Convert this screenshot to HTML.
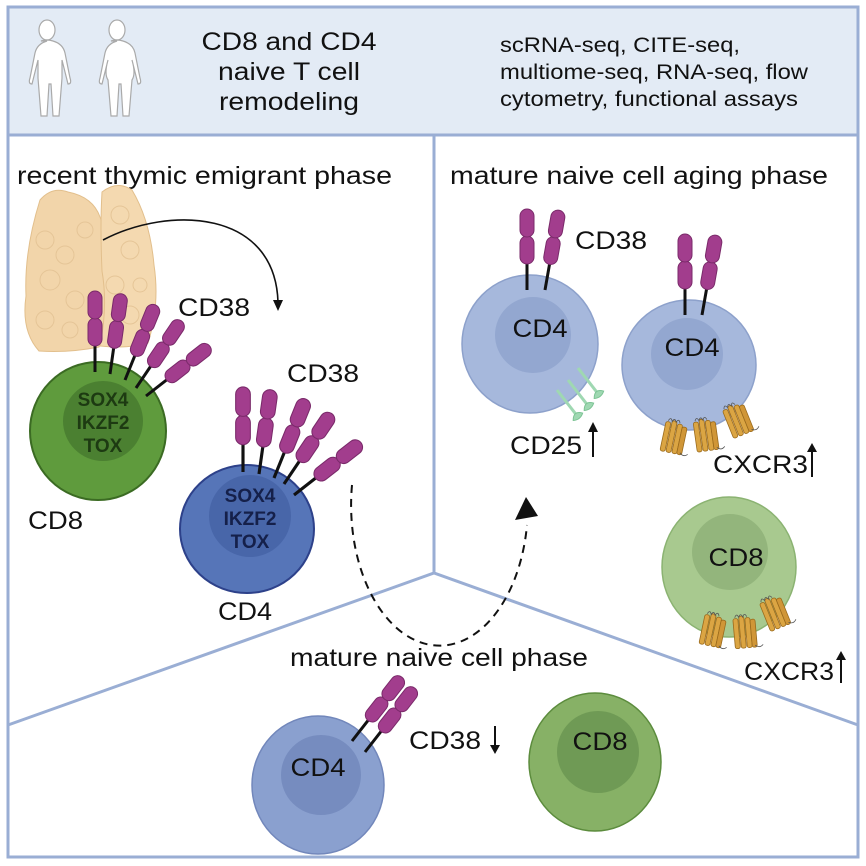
<!DOCTYPE html>
<html><head><meta charset="utf-8"><style>
html,body{margin:0;padding:0;background:#fff;}
svg{display:block;}
text{font-family:"Liberation Sans",Arial,sans-serif;fill:#111;}
</style></head><body>
<svg width="866" height="866" viewBox="0 0 866 866" xmlns="http://www.w3.org/2000/svg">
<defs>
<g id="rec">
  <line x1="0" y1="0" x2="0" y2="-27" stroke="#111" stroke-width="3"/>
  <rect x="-7" y="-54" width="14" height="28" rx="7" fill="#a23d8d" stroke="#7a2a6a" stroke-width="1"/>
  <rect x="-7" y="-81" width="14" height="28" rx="7" fill="#a23d8d" stroke="#7a2a6a" stroke-width="1"/>
</g>
<g id="pin">
  <line x1="0" y1="0" x2="0" y2="30" stroke="#9fd8b2" stroke-width="3"/>
  <path d="M-6,34 Q0,26 6,34 Q0,38 -6,34Z" fill="#9fd8b2" stroke="#7cc394" stroke-width="1"/>
</g>
<g id="cx">
  <rect x="-10" y="-14" width="5" height="30" rx="2" fill="#dba543" stroke="#9a6a1c" stroke-width="0.8"/>
  <rect x="-4" y="-16" width="5" height="32" rx="2" fill="#dba543" stroke="#9a6a1c" stroke-width="0.8"/>
  <rect x="2" y="-14" width="5" height="30" rx="2" fill="#dba543" stroke="#9a6a1c" stroke-width="0.8"/>
  <rect x="7" y="-12" width="5" height="28" rx="2" fill="#d09637" stroke="#9a6a1c" stroke-width="0.8"/>
  <path d="M-8,-15 q2,-5 4,0 q2,-5 4,0 q2,-5 4,0" fill="none" stroke="#555" stroke-width="0.8"/>
  <path d="M10,14 q4,4 8,0" fill="none" stroke="#555" stroke-width="0.8"/>
</g>
</defs>

<!-- header -->
<rect x="8" y="7" width="850" height="128" fill="#e3ebf5"/>
<rect x="8" y="7" width="850" height="850" fill="none" stroke="#9aaed4" stroke-width="3"/>
<line x1="8" y1="135" x2="858" y2="135" stroke="#9aaed4" stroke-width="3"/>
<line x1="434" y1="135" x2="434" y2="573" stroke="#9aaed4" stroke-width="3"/>
<polyline points="8,725 434,573 858,725" fill="none" stroke="#9aaed4" stroke-width="3"/>

<!-- humans -->
<g fill="#fff" stroke="#aaa" stroke-width="1.2">
<ellipse cx="47" cy="30" rx="8" ry="10"/>
<path d="M41,41 q6,-2 12,0 q10,3 12,12 l5,25 q2,6 -2,6 l-6,-24 l0,18 l-3,38 l-6,0 l-2,-32 l-2,0 l-2,32 l-6,0 l-3,-38 l0,-18 l-6,24 q-4,0 -2,-6 l5,-25 q2,-9 12,-12 Z"/>
<ellipse cx="117" cy="30" rx="8" ry="10"/>
<path d="M111,41 q6,-2 12,0 q10,3 12,12 l5,25 q2,6 -2,6 l-6,-24 q4,14 0,20 l-3,36 l-6,0 l-2,-32 l-2,0 l-2,32 l-6,0 l-3,-36 q-4,-6 0,-20 l-6,24 q-4,0 -2,-6 l5,-25 q2,-9 12,-12 Z"/>
</g>

<text x="289" y="50" font-size="25" text-anchor="middle" textLength="175" lengthAdjust="spacingAndGlyphs">CD8 and CD4</text>
<text x="289" y="80" font-size="25" text-anchor="middle" textLength="142" lengthAdjust="spacingAndGlyphs">naive T cell</text>
<text x="289" y="110" font-size="25" text-anchor="middle" textLength="140" lengthAdjust="spacingAndGlyphs">remodeling</text>
<text x="500" y="52" font-size="21" textLength="240" lengthAdjust="spacingAndGlyphs">scRNA-seq, CITE-seq,</text>
<text x="500" y="79" font-size="21" textLength="308" lengthAdjust="spacingAndGlyphs">multiome-seq, RNA-seq, flow</text>
<text x="500" y="106" font-size="21" textLength="298" lengthAdjust="spacingAndGlyphs">cytometry, functional assays</text>

<text x="17" y="184" font-size="25" textLength="375" lengthAdjust="spacingAndGlyphs">recent thymic emigrant phase</text>
<text x="450" y="184" font-size="25" textLength="378" lengthAdjust="spacingAndGlyphs">mature naive cell aging phase</text>
<text x="290" y="666" font-size="25" textLength="298" lengthAdjust="spacingAndGlyphs">mature naive cell phase</text>

<!-- thymus -->
<g stroke="#e2bf8c" stroke-width="1">
<path d="M40,200 q12,-14 28,-8 q25,5 32,25 q10,25 4,60 q5,40 -5,70 q-30,6 -60,4 q-18,-20 -13,-55 q-2,-45 14,-96Z" fill="#f2d5aa"/>
<path d="M102,192 q15,-12 30,-2 q18,30 22,75 q6,40 -6,78 q-20,6 -48,3 q8,-40 2,-75 q-2,-45 0,-79Z" fill="#f4d9b0"/>
</g>
<g fill="none" stroke="#e5c597" stroke-width="1">
<circle cx="45" cy="240" r="9"/><circle cx="65" cy="255" r="9"/><circle cx="50" cy="280" r="10"/><circle cx="75" cy="300" r="9"/><circle cx="45" cy="320" r="9"/><circle cx="85" cy="230" r="8"/><circle cx="120" cy="215" r="9"/><circle cx="130" cy="250" r="9"/><circle cx="115" cy="285" r="9"/><circle cx="130" cy="315" r="9"/><circle cx="70" cy="330" r="8"/><circle cx="140" cy="285" r="7"/>
</g>
<path d="M103,240 C170,205 275,210 278,302" fill="none" stroke="#111" stroke-width="1.6"/>
<path d="M273,300 L278,311 L283,300 Z" fill="#111"/>

<!-- RTE CD8 -->
<ellipse cx="98" cy="431" rx="68" ry="69" fill="#5f9b3d" stroke="#3b6b23" stroke-width="2"/>
<circle cx="103" cy="421" r="40" fill="#4b8031"/>
<use href="#rec" transform="translate(95,372)"/>
<use href="#rec" transform="translate(110,374) rotate(8)"/>
<use href="#rec" transform="translate(125,380) rotate(22)"/>
<use href="#rec" transform="translate(136,388) rotate(34)"/>
<use href="#rec" transform="translate(146,396) rotate(52)"/>
<text x="103" y="406" font-size="19" font-weight="bold" text-anchor="middle" style="fill:#1d3a12">SOX4</text>
<text x="103" y="429" font-size="19" font-weight="bold" text-anchor="middle" style="fill:#1d3a12">IKZF2</text>
<text x="103" y="452" font-size="19" font-weight="bold" text-anchor="middle" style="fill:#1d3a12">TOX</text>
<text x="178" y="316" font-size="25" textLength="72" lengthAdjust="spacingAndGlyphs">CD38</text>
<text x="28" y="529" font-size="25" textLength="55" lengthAdjust="spacingAndGlyphs">CD8</text>

<!-- RTE CD4 -->
<ellipse cx="247" cy="529" rx="67" ry="64" fill="#5675b8" stroke="#2d418a" stroke-width="2"/>
<circle cx="250" cy="516" r="41" fill="#4866a9"/>
<use href="#rec" transform="translate(243,472) scale(1.05)"/>
<use href="#rec" transform="translate(259,474) rotate(8) scale(1.05)"/>
<use href="#rec" transform="translate(274,478) rotate(22) scale(1.05)"/>
<use href="#rec" transform="translate(284,484) rotate(34) scale(1.05)"/>
<use href="#rec" transform="translate(294,495) rotate(52) scale(1.05)"/>
<text x="250" y="502" font-size="19" font-weight="bold" text-anchor="middle" style="fill:#15204a">SOX4</text>
<text x="250" y="525" font-size="19" font-weight="bold" text-anchor="middle" style="fill:#15204a">IKZF2</text>
<text x="250" y="548" font-size="19" font-weight="bold" text-anchor="middle" style="fill:#15204a">TOX</text>
<text x="287" y="382" font-size="25" textLength="72" lengthAdjust="spacingAndGlyphs">CD38</text>
<text x="218" y="620" font-size="25" textLength="54" lengthAdjust="spacingAndGlyphs">CD4</text>

<!-- dashed cycle -->
<path d="M352,485 A88,140 0 0 0 527,525" fill="none" stroke="#111" stroke-width="2" stroke-dasharray="8,6"/>
<path d="M515,520 L526,497 L538,516 Z" fill="#111"/>

<!-- aging CD4 #1 -->
<ellipse cx="530" cy="344" rx="68" ry="69" fill="#a6b8dc" stroke="#8da1cb" stroke-width="1.5"/>
<circle cx="533" cy="335" r="38" fill="#93a7d0"/>
<use href="#rec" transform="translate(527,290)"/>
<use href="#rec" transform="translate(545,290) rotate(10)"/>
<use href="#pin" transform="translate(557,390) rotate(-38)"/>
<use href="#pin" transform="translate(568,380) rotate(-38)"/>
<use href="#pin" transform="translate(578,368) rotate(-38)"/>
<text x="540" y="337" font-size="25" text-anchor="middle" textLength="55" lengthAdjust="spacingAndGlyphs">CD4</text>
<text x="575" y="249" font-size="25" textLength="72" lengthAdjust="spacingAndGlyphs">CD38</text>
<text x="510" y="454" font-size="25" textLength="72" lengthAdjust="spacingAndGlyphs">CD25</text>
<line x1="593" y1="457" x2="593" y2="428" stroke="#111" stroke-width="2"/>
<path d="M588,432 L593,422 L598,432Z" fill="#111"/>

<!-- aging CD4 #2 -->
<ellipse cx="689" cy="365" rx="67" ry="65" fill="#a6b8dc" stroke="#8da1cb" stroke-width="1.5"/>
<circle cx="687" cy="354" r="36" fill="#93a7d0"/>
<use href="#rec" transform="translate(685,315)"/>
<use href="#rec" transform="translate(702,315) rotate(10)"/>
<use href="#cx" transform="translate(673,437) rotate(12)"/>
<use href="#cx" transform="translate(705,435) rotate(-8)"/>
<use href="#cx" transform="translate(737,420) rotate(-22)"/>
<text x="692" y="356" font-size="25" text-anchor="middle" textLength="55" lengthAdjust="spacingAndGlyphs">CD4</text>
<text x="713" y="473" font-size="25" textLength="95" lengthAdjust="spacingAndGlyphs">CXCR3</text>
<line x1="812" y1="477" x2="812" y2="449" stroke="#111" stroke-width="2"/>
<path d="M807,452 L812,443 L817,452Z" fill="#111"/>

<!-- aging CD8 -->
<ellipse cx="729" cy="567" rx="67" ry="70" fill="#a8c98f" stroke="#8bb372" stroke-width="1.5"/>
<circle cx="730" cy="552" r="38" fill="#93b57c"/>
<use href="#cx" transform="translate(712,630) rotate(12)"/>
<use href="#cx" transform="translate(744,632) rotate(-5)"/>
<use href="#cx" transform="translate(774,613) rotate(-22)"/>
<text x="736" y="566" font-size="25" text-anchor="middle" textLength="55" lengthAdjust="spacingAndGlyphs">CD8</text>
<text x="744" y="680" font-size="25" textLength="90" lengthAdjust="spacingAndGlyphs">CXCR3</text>
<line x1="841" y1="683" x2="841" y2="656" stroke="#111" stroke-width="2"/>
<path d="M836,660 L841,651 L846,660Z" fill="#111"/>

<!-- bottom CD4 -->
<ellipse cx="318" cy="785" rx="66" ry="69" fill="#8aa0cf" stroke="#7287bb" stroke-width="1.5"/>
<circle cx="321" cy="775" r="40" fill="#768cbf"/>
<use href="#rec" transform="translate(352,741) rotate(38)"/>
<use href="#rec" transform="translate(365,752) rotate(38)"/>
<text x="318" y="776" font-size="25" text-anchor="middle" textLength="55" lengthAdjust="spacingAndGlyphs">CD4</text>
<text x="409" y="749" font-size="25" textLength="72" lengthAdjust="spacingAndGlyphs">CD38</text>
<line x1="495" y1="726" x2="495" y2="748" stroke="#111" stroke-width="2"/>
<path d="M490,745 L495,754 L500,745Z" fill="#111"/>

<!-- bottom CD8 -->
<ellipse cx="595" cy="762" rx="66" ry="69" fill="#87b166" stroke="#5c8c3d" stroke-width="1.5"/>
<circle cx="598" cy="752" r="41" fill="#6f9a55"/>
<text x="600" y="750" font-size="25" text-anchor="middle" textLength="55" lengthAdjust="spacingAndGlyphs">CD8</text>
</svg>
</body></html>
